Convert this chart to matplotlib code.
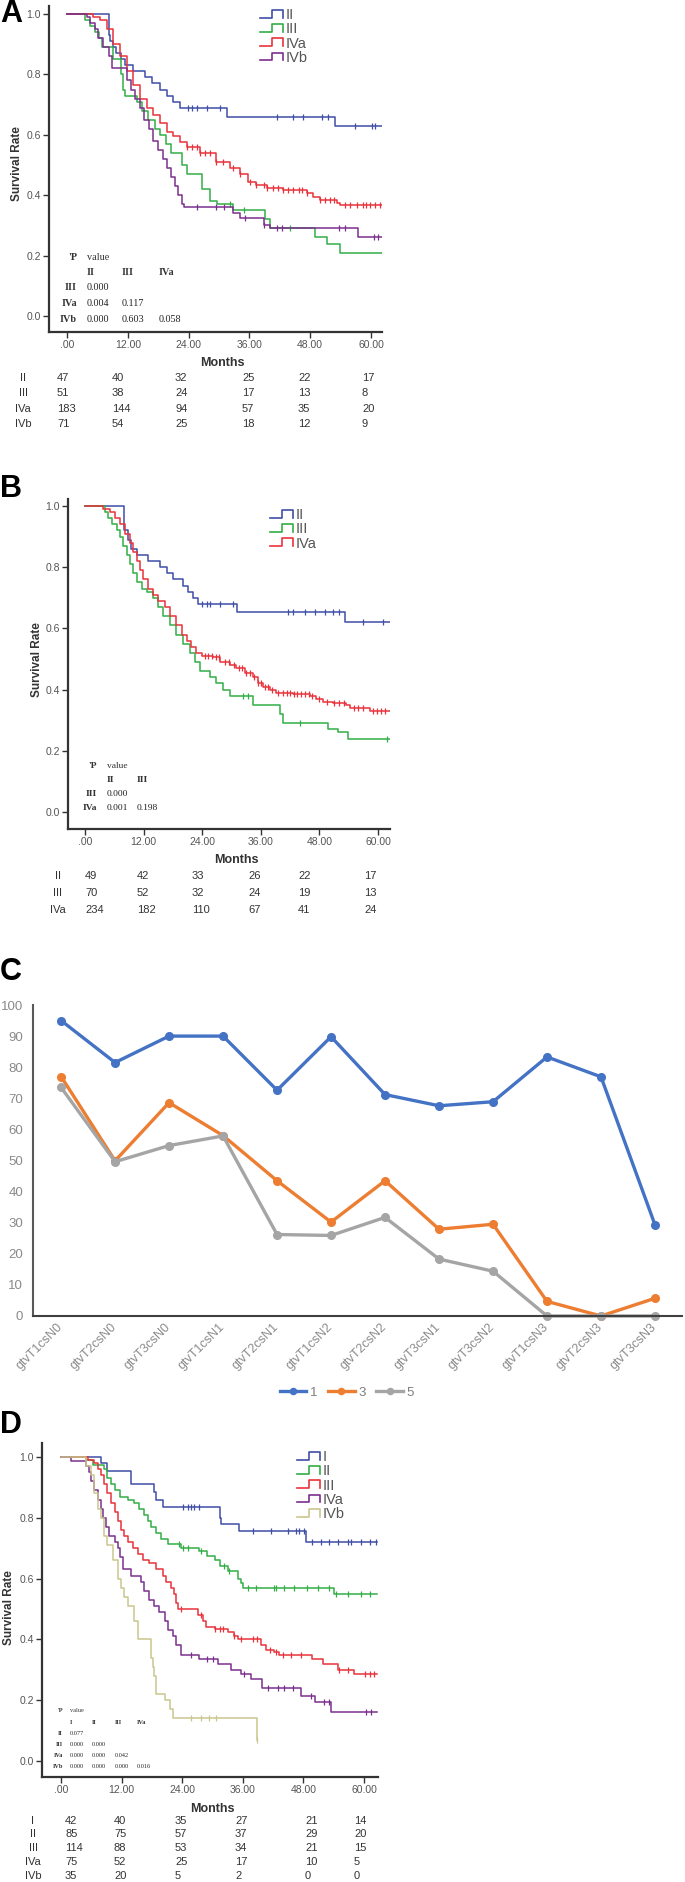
import numpy as np
import matplotlib
matplotlib.use('Agg')
import matplotlib.pyplot as plt
from matplotlib.lines import Line2D
from matplotlib.legend_handler import HandlerBase

plt.rcParams['font.family'] = ['Liberation Sans', 'DejaVu Sans']
SERIF = ['Liberation Serif', 'DejaVu Serif']

W, H = 685, 1882

# ---------------- common KM axis ticks ----------------
month_ticks = [0, 12, 24, 36, 48, 60]
month_labels = ['.00', '12.00', '24.00', '36.00', '48.00', '60.00']
surv_ticks = [0.0, 0.2, 0.4, 0.6, 0.8, 1.0]
surv_labels = ['0.0', '0.2', '0.4', '0.6', '0.8', '1.0']

# ---------------- Panel A (step times in months, survival after step) ----------------
a_ii_t = [0, 8.2, 8.5, 9.0, 9.6, 10.6, 11.4, 13.1, 15.4, 16.7, 18.4, 19.7, 21.0, 22.3, 31.5, 52.9]
a_ii_s = [1.0, 0.93, 0.91, 0.89, 0.87, 0.85, 0.83, 0.81, 0.79, 0.77, 0.75, 0.73, 0.71, 0.69, 0.66, 0.63]
a_ii_c = [23.9, 24.6, 25.6, 27.6, 30.2, 41.4, 44.7, 46.6, 50.3, 51.6, 56.8, 60.1, 60.8]

a_iii_t = [0, 3.6, 4.6, 5.6, 6.3, 7.0, 9.0, 10.6, 11.0, 11.4, 13.8, 14.8, 16.0, 17.3, 18.4, 19.5,
           20.5, 22.6, 23.6, 26.6, 28.3, 29.6, 32.8, 39.1, 40.1, 48.9, 51.3, 53.9]
a_iii_s = [1.0, 0.98, 0.96, 0.94, 0.92, 0.89, 0.85, 0.80, 0.75, 0.73, 0.71, 0.68, 0.65, 0.62, 0.60, 0.57,
           0.54, 0.50, 0.47, 0.42, 0.38, 0.37, 0.35, 0.32, 0.29, 0.26, 0.24, 0.21]
a_iii_c = [32.2, 35.0, 44.0]

a_iva_t = [0, 5.2, 6.5, 7.8, 9.1, 10.5, 11.8, 13.1, 14.4, 15.7, 17.0, 18.4, 19.7, 21.0, 22.3, 23.6,
           26.3, 29.5, 32.2, 34.1, 35.8, 37.4, 39.4, 42.7, 47.3, 48.6, 49.9, 53.2, 53.9]
a_iva_s = [1.0, 0.99, 0.98, 0.95, 0.90, 0.86, 0.81, 0.765, 0.72, 0.69, 0.665, 0.64, 0.61, 0.595, 0.577, 0.56,
           0.54, 0.51, 0.49, 0.47, 0.445, 0.435, 0.423, 0.417, 0.408, 0.395, 0.384, 0.373, 0.368]
a_iva_c = [23.6, 24.6, 25.6, 26.3, 27.2, 28.2, 29.5, 30.8, 32.8, 34.1, 36.1, 37.4, 38.8, 39.4, 40.7,
           41.7, 42.7, 43.7, 44.7, 45.7, 46.3, 47.3, 49.9, 50.9, 51.9, 52.6, 54.9, 55.8, 57.2, 58.5,
           59.1, 59.8, 60.8, 61.7]

a_ivb_t = [0, 3.9, 4.5, 5.5, 6.2, 7.2, 8.2, 8.8, 11.8, 12.6, 13.4, 14.4, 15.2, 16.1, 17.0, 18.0,
           19.0, 19.7, 20.5, 21.3, 22.0, 22.6, 23.0, 32.8, 34.1, 38.8, 40.1, 57.5]
a_ivb_s = [1.0, 0.99, 0.97, 0.95, 0.92, 0.89, 0.86, 0.82, 0.78, 0.75, 0.72, 0.69, 0.65, 0.62, 0.58, 0.55,
           0.52, 0.49, 0.46, 0.43, 0.40, 0.37, 0.36, 0.34, 0.325, 0.30, 0.29, 0.26]
a_ivb_c = [25.6, 29.5, 30.9, 35.1, 38.8, 41.4, 42.4, 53.6, 54.9, 60.5, 61.4]
a_end = 62.1

a_groups = ['II', 'III', 'IVa', 'IVb']
a_risk = [[47, 40, 32, 25, 22, 17],
          [51, 38, 24, 17, 13, 8],
          [183, 144, 94, 57, 35, 20],
          [71, 54, 25, 18, 12, 9]]
a_p_cols = ['II', 'III', 'IVa']
a_p_rows = ['III', 'IVa', 'IVb']
a_p_vals = [['0.000'], ['0.004', '0.117'], ['0.000', '0.603', '0.058']]

# ---------------- Panel B ----------------
b_ii_t = [0, 8.0, 8.9, 9.5, 10.6, 13.0, 15.3, 16.7, 18.1, 20.1, 21.1, 22.2, 23.2, 31.2, 53.2]
b_ii_s = [1.0, 0.92, 0.89, 0.86, 0.84, 0.82, 0.80, 0.78, 0.76, 0.74, 0.72, 0.70, 0.68, 0.655, 0.62]
b_ii_c = [23.9, 24.9, 25.6, 27.6, 30.3, 41.6, 42.6, 45.0, 47.0, 49.1, 50.8, 52.1, 56.9, 61.0]

b_iii_t = [0, 4.1, 4.8, 5.5, 6.5, 7.2, 7.8, 8.5, 9.2, 9.9, 10.6, 11.6, 12.6, 14.0, 15.0, 16.0,
           17.4, 18.7, 20.1, 21.5, 22.5, 23.5, 25.6, 26.9, 28.3, 29.7, 34.4, 39.9, 40.6, 49.8, 51.8, 53.9]
b_iii_s = [1.0, 0.98, 0.96, 0.94, 0.92, 0.90, 0.87, 0.84, 0.81, 0.78, 0.75, 0.73, 0.72, 0.70, 0.67, 0.64,
           0.61, 0.58, 0.55, 0.52, 0.49, 0.46, 0.44, 0.42, 0.40, 0.38, 0.35, 0.32, 0.29, 0.27, 0.26, 0.24]
b_iii_c = [32.4, 33.4, 44.0, 61.8]

b_iva_t = [0, 3.7, 5.1, 6.1, 7.2, 8.2, 9.2, 9.9, 10.6, 11.2, 11.9, 13.0, 14.0, 15.0, 16.4, 17.4,
           18.7, 19.8, 20.8, 21.8, 22.8, 23.9, 26.2, 27.6, 29.7, 31.0, 32.7, 34.4, 35.4, 36.5, 37.8,
           39.2, 42.6, 46.0, 47.4, 48.7, 50.8, 53.5, 54.2, 58.3]
b_iva_s = [1.0, 0.99, 0.98, 0.96, 0.94, 0.91, 0.88, 0.85, 0.82, 0.79, 0.76, 0.73, 0.71, 0.69, 0.67, 0.64,
           0.61, 0.58, 0.56, 0.54, 0.52, 0.51, 0.505, 0.49, 0.48, 0.47, 0.455, 0.44, 0.42, 0.41, 0.40,
           0.39, 0.385, 0.38, 0.37, 0.36, 0.355, 0.35, 0.34, 0.33]
b_iva_c = [24.5, 25.2, 26.0, 26.8, 27.5, 28.6, 29.5, 30.5, 31.5, 32.2, 33.0, 33.8, 34.6, 35.5, 36.0,
           36.8, 37.5, 38.3, 39.5, 40.5, 41.3, 42.0, 42.8, 43.5, 44.2, 45.0, 45.8, 46.5, 48.0, 49.5,
           51.0, 52.0, 53.0, 55.0, 56.0, 57.0, 59.0, 59.8, 60.6, 61.5]
b_end = 62.4

b_groups = ['II', 'III', 'IVa']
b_risk = [[49, 42, 33, 26, 22, 17],
          [70, 52, 32, 24, 19, 13],
          [234, 182, 110, 67, 41, 24]]
b_p_cols = ['II', 'III']
b_p_rows = ['III', 'IVa']
b_p_vals = [['0.000'], ['0.001', '0.198']]

# ---------------- Panel C ----------------
c_groups = ['gtvT1csN0', 'gtvT2csN0', 'gtvT3csN0', 'gtvT1csN1', 'gtvT2csN1', 'gtvT1csN2',
            'gtvT2csN2', 'gtvT3csN1', 'gtvT3csN2', 'gtvT1csN3', 'gtvT2csN3', 'gtvT3csN3']
c_1 = [95.0, 81.5, 90.0, 90.0, 72.6, 89.8, 71.2, 67.6, 68.9, 83.3, 76.9, 29.3]
c_3 = [77.0, 49.9, 68.6, 58.0, 43.5, 30.2, 43.5, 27.9, 29.5, 4.7, 0.0, 5.7]
c_5 = [73.5, 49.6, 54.8, 57.9, 26.2, 25.9, 31.7, 18.3, 14.4, 0.0, 0.0, 0.0]
c_names = ['1', '3', '5']

# ---------------- Panel D ----------------
d_i_t = [0, 7.9, 9.1, 13.9, 18.5, 18.8, 20.1, 31.4, 31.7, 35.3, 48.5]
d_i_s = [1.0, 0.98, 0.955, 0.91, 0.885, 0.86, 0.835, 0.80, 0.78, 0.755, 0.72]
d_i_c = [24.1, 25.1, 25.7, 26.4, 27.4, 38.0, 41.6, 44.9, 46.5, 47.2, 48.2, 49.8, 51.5, 53.1, 54.8,
         56.8, 57.4, 59.4, 61.1, 62.3]

d_ii_t = [0, 5.0, 6.3, 8.6, 9.2, 9.9, 10.6, 11.6, 13.2, 14.5, 15.5, 16.5, 17.2, 17.8, 18.8, 19.8,
          21.1, 23.8, 27.4, 29.0, 30.4, 31.4, 33.0, 35.0, 35.6, 36.0, 54.1]
d_ii_s = [1.0, 0.99, 0.975, 0.96, 0.93, 0.91, 0.89, 0.87, 0.86, 0.85, 0.83, 0.81, 0.79, 0.77, 0.75, 0.73,
          0.715, 0.70, 0.69, 0.675, 0.66, 0.64, 0.625, 0.60, 0.585, 0.57, 0.55]
d_ii_c = [23.4, 24.1, 25.1, 27.7, 32.3, 33.3, 37.0, 38.6, 42.2, 42.6, 44.2, 46.2, 48.8, 50.8, 53.1,
          54.5, 56.8, 59.4, 61.1]

d_iii_t = [0, 5.3, 6.6, 7.3, 7.9, 8.6, 9.2, 9.9, 10.6, 11.2, 11.9, 12.5, 13.2, 14.2, 15.2, 16.2,
           17.5, 18.8, 20.1, 20.8, 21.8, 22.4, 22.8, 23.1, 27.1, 28.1, 28.7, 30.4, 33.0, 34.3, 35.0,
           39.6, 40.6, 42.2, 43.2, 49.8, 51.8, 54.8, 58.1]
d_iii_s = [1.0, 0.99, 0.98, 0.96, 0.94, 0.91, 0.88, 0.85, 0.82, 0.79, 0.76, 0.74, 0.72, 0.70, 0.68, 0.66,
           0.65, 0.63, 0.61, 0.59, 0.57, 0.55, 0.52, 0.50, 0.48, 0.46, 0.44, 0.435, 0.425, 0.41, 0.40,
           0.38, 0.365, 0.36, 0.35, 0.335, 0.32, 0.30, 0.285]
d_iii_c = [23.8, 27.7, 30.4, 31.4, 32.0, 34.3, 35.6, 38.0, 38.9, 41.3, 42.6, 43.9, 45.5, 47.5, 55.1,
           56.8, 60.1, 61.1, 62.0]

d_iva_t = [0, 2.0, 5.0, 5.6, 5.9, 6.6, 7.3, 7.9, 8.3, 8.9, 9.6, 10.6, 11.2, 11.6, 12.2, 13.9, 15.8,
           16.5, 17.5, 18.5, 19.5, 20.5, 21.1, 22.1, 22.8, 23.8, 27.4, 31.0, 33.7, 35.6, 37.6, 39.9,
           47.5, 50.2, 53.5]
d_iva_s = [1.0, 0.987, 0.97, 0.95, 0.92, 0.89, 0.86, 0.83, 0.80, 0.77, 0.74, 0.72, 0.70, 0.67, 0.63, 0.61,
           0.59, 0.56, 0.53, 0.51, 0.49, 0.46, 0.43, 0.41, 0.38, 0.35, 0.335, 0.32, 0.30, 0.285, 0.27,
           0.24, 0.215, 0.195, 0.16]
d_iva_c = [25.7, 29.0, 30.0, 36.3, 40.9, 42.9, 44.2, 45.9, 49.5, 52.1, 53.1, 60.4, 61.4]

d_ivb_t = [0, 5.0, 5.9, 6.6, 7.3, 7.9, 8.6, 9.2, 10.2, 11.2, 11.9, 12.5, 13.2, 14.5, 15.2, 17.8,
           18.2, 18.5, 18.8, 20.5, 21.5, 22.1, 38.9]
d_ivb_s = [1.0, 0.97, 0.94, 0.88, 0.83, 0.80, 0.74, 0.71, 0.66, 0.60, 0.57, 0.54, 0.51, 0.46, 0.40, 0.34,
           0.31, 0.28, 0.22, 0.20, 0.17, 0.14, 0.07]
d_ivb_c = [25.7, 27.7, 29.4, 30.7, 38.9]
d_end = 62.6
d_ivb_end = 38.9

d_groups = ['I', 'II', 'III', 'IVa', 'IVb']
d_risk = [[42, 40, 35, 27, 21, 14],
          [85, 75, 57, 37, 29, 20],
          [114, 88, 53, 34, 21, 15],
          [75, 52, 25, 17, 10, 5],
          [35, 20, 5, 2, 0, 0]]
d_p_cols = ['I', 'II', 'III', 'IVa']
d_p_rows = ['II', 'III', 'IVa', 'IVb']
d_p_vals = [['0.077'], ['0.000', '0.000'], ['0.000', '0.000', '0.042'],
            ['0.000', '0.000', '0.000', '0.016']]

BLUE, GREEN, RED, PURPLE, KHAKI = '#3f4ea6', '#33ad46', '#e8333b', '#7b2f8d', '#cbc68e'
TXT = '#333333'

fig = plt.figure(figsize=(W / 100, H / 100), dpi=100)
fig.patch.set_facecolor('white')


def box(l, t, r, b):
    return [l / W, 1 - b / H, (r - l) / W, (b - t) / H]


def put(x, y, s, **kw):
    kw.setdefault('color', TXT)
    fig.text(x / W, 1 - y / H, s, **kw)


class StepHandle(HandlerBase):
    # SPSS style legend key: a little step
    def create_artists(self, legend, orig, xd, yd, w, h, fs, trans):
        xs = np.array([0, 0.5, 0.5, 1, 1]) * w - xd
        ys = np.array([0.1, 0.1, 0.95, 0.95, 0.1]) * h - yd
        return [Line2D(xs, ys, color=orig.get_color(), lw=1.2, transform=trans)]


def km_axes(l, t, r, b, x0, x60, y0, y1):
    ax = fig.add_axes(box(l, t, r, b))
    ppm = (x60 - x0) / 60
    ax.set_xlim((l - x0) / ppm, (r - x0) / ppm)
    ppu = y0 - y1
    ax.set_ylim((y0 - b) / ppu, (y0 - t) / ppu)
    for s in ('top', 'right'):
        ax.spines[s].set_visible(False)
    for s in ('left', 'bottom'):
        ax.spines[s].set_linewidth(1.6)
        ax.spines[s].set_color('#333333')
    ax.set_xticks(month_ticks)
    ax.set_xticklabels(month_labels)
    ax.set_yticks(surv_ticks)
    ax.set_yticklabels(surv_labels)
    ax.tick_params(direction='out', length=4, width=1, color='#333333',
                   labelsize=7.5, labelcolor='#555555', pad=2)
    return ax


def km(ax, t, s, end, cens, color):
    ax.step(list(t) + [end], list(s) + [s[-1]], where='post', color=color, lw=1.1)
    idx = np.searchsorted(t, cens, side='right') - 1
    ax.plot(cens, np.asarray(s)[idx], ls='none', marker='|', ms=5, mew=0.9, color=color)
    return Line2D([], [], color=color)


def km_legend(ax, handles, labels, left, top):
    ax.legend(handles, labels, handler_map={Line2D: StepHandle()}, loc='upper left',
              bbox_to_anchor=(left / W, 1 - top / H), bbox_transform=fig.transFigure,
              frameon=False, fontsize=10.5, labelcolor='#555555', handlelength=1.6,
              handleheight=0.6, handletextpad=0.15, labelspacing=0.02, borderpad=0,
              borderaxespad=0)


def risk_table(labels, rows, label_x, col_x, row_y):
    for lab, vals, y in zip(labels, rows, row_y):
        put(label_x, y, lab, ha='center', va='center', fontsize=8)
        for v, x in zip(vals, col_x):
            put(x, y, str(v), ha='left', va='center', fontsize=8)


def p_table(cols, rows, vals, lab_x, col_x, y_top, dy, fs):
    put(lab_x, y_top, "'P", ha='right', va='center', fontsize=fs, family=SERIF, fontweight='bold')
    put(col_x[0], y_top, 'value', ha='left', va='center', fontsize=fs, family=SERIF)
    for c, x in zip(cols, col_x):
        put(x, y_top + dy, c, ha='left', va='center', fontsize=fs, family=SERIF, fontweight='bold')
    for i, (r, vv) in enumerate(zip(rows, vals)):
        y = y_top + dy * (i + 2)
        put(lab_x, y, r, ha='right', va='center', fontsize=fs, family=SERIF, fontweight='bold')
        for v, x in zip(vv, col_x):
            put(x, y, v, ha='left', va='center', fontsize=fs, family=SERIF, color='#222222')


# ================= Panel A =================
put(0, 22, 'A', fontsize=22, fontweight='bold', color='black', va='baseline')
axa = km_axes(49, 6, 382, 332, 67, 371, 316, 14)
ha = [km(axa, a_ii_t, a_ii_s, a_end, a_ii_c, BLUE),
      km(axa, a_iii_t, a_iii_s, a_end, a_iii_c, GREEN),
      km(axa, a_iva_t, a_iva_s, a_end, a_iva_c, RED),
      km(axa, a_ivb_t, a_ivb_s, a_end, a_ivb_c, PURPLE)]
km_legend(axa, ha, a_groups, 260, 8)
put(17, 164, 'Survival Rate', rotation=90, ha='center', va='center', fontsize=8.5, fontweight='bold')
put(222, 363, 'Months', ha='center', va='center', fontsize=9, fontweight='bold')
risk_table(a_groups, a_risk, 23, [57, 112, 175, 242, 298, 362], [378, 393, 409, 424])
p_table(a_p_cols, a_p_rows, a_p_vals, 77, [87, 122, 159], 257, 15.5, 7.3)

# ================= Panel B =================
put(0, 497, 'B', fontsize=22, fontweight='bold', color='black', va='baseline')
axb = km_axes(68, 499, 390, 829, 85, 378, 812, 506)
hb = [km(axb, b_ii_t, b_ii_s, b_end, b_ii_c, BLUE),
      km(axb, b_iii_t, b_iii_s, b_end, b_iii_c, GREEN),
      km(axb, b_iva_t, b_iva_s, b_end, b_iva_c, RED)]
km_legend(axb, hb, b_groups, 270, 508)
put(37, 660, 'Survival Rate', rotation=90, ha='center', va='center', fontsize=8.5, fontweight='bold')
put(236, 860, 'Months', ha='center', va='center', fontsize=9, fontweight='bold')
risk_table(b_groups, b_risk, 58, [85, 137, 192, 248, 298, 364], [876, 893, 910])
p_table(b_p_cols, b_p_rows, b_p_vals, 97, [107, 137], 766, 14, 6.8)

# ================= Panel C =================
put(0, 980, 'C', fontsize=22, fontweight='bold', color='black', va='baseline')
axc = fig.add_axes(box(33, 1005, 682, 1316))
xc = np.arange(len(c_groups))
hc = []
for vals, col, name in zip([c_1, c_3, c_5], ['#4472c4', '#ed7d31', '#a5a5a5'], c_names):
    ln, = axc.plot(xc, vals, color=col, lw=2.4, marker='o', ms=5.5, label=name,
                   solid_joinstyle='round', clip_on=False)
    hc.append(ln)
axc.set_xlim(-0.52, 11.5)
axc.set_ylim(0, 100)
axc.set_yticks(np.arange(0, 101, 10))
axc.set_xticks(xc)
axc.set_xticklabels(c_groups, rotation=45, ha='right', va='center', rotation_mode='anchor')
axc.tick_params(axis='y', length=0, labelsize=9.5, labelcolor='#8a8a8a', pad=7)
axc.tick_params(axis='x', length=0, labelsize=9, labelcolor='#8a8a8a', pad=7)
for s in ('top', 'right'):
    axc.spines[s].set_visible(False)
axc.spines['left'].set_color('#595959')
axc.spines['left'].set_linewidth(1.5)
axc.spines['bottom'].set_color('#404040')
axc.spines['bottom'].set_linewidth(1.5)
fig.legend(hc, c_names, loc='center', bbox_to_anchor=(347 / W, 1 - 1393 / H), ncol=3,
           frameon=False, fontsize=9.5, labelcolor='#7f7f7f', handlelength=2.0,
           handletextpad=0.3, columnspacing=0.8, markerscale=0.8)

# ================= Panel D =================
put(0, 1433, 'D', fontsize=22, fontweight='bold', color='black', va='baseline')
axd = km_axes(42, 1443, 378, 1777, 61, 364, 1761, 1457)
hd = [km(axd, d_i_t, d_i_s, d_end, d_i_c, BLUE),
      km(axd, d_ii_t, d_ii_s, d_end, d_ii_c, GREEN),
      km(axd, d_iii_t, d_iii_s, d_end, d_iii_c, RED),
      km(axd, d_iva_t, d_iva_s, d_end, d_iva_c, PURPLE),
      km(axd, d_ivb_t, d_ivb_s, d_ivb_end, d_ivb_c, KHAKI)]
km_legend(axd, hd, d_groups, 297, 1450)
put(9, 1608, 'Survival Rate', rotation=90, ha='center', va='center', fontsize=8.5, fontweight='bold')
put(212, 1809, 'Months', ha='center', va='center', fontsize=9, fontweight='bold')
risk_table(d_groups, d_risk, 33, [65, 114, 175, 235, 305, 354], [1821, 1834, 1848, 1862, 1876])
p_table(d_p_cols, d_p_rows, d_p_vals, 63, [70, 92, 115, 137], 1711, 11.2, 4.5)

fig.savefig('out.png', dpi=100, facecolor='white')
